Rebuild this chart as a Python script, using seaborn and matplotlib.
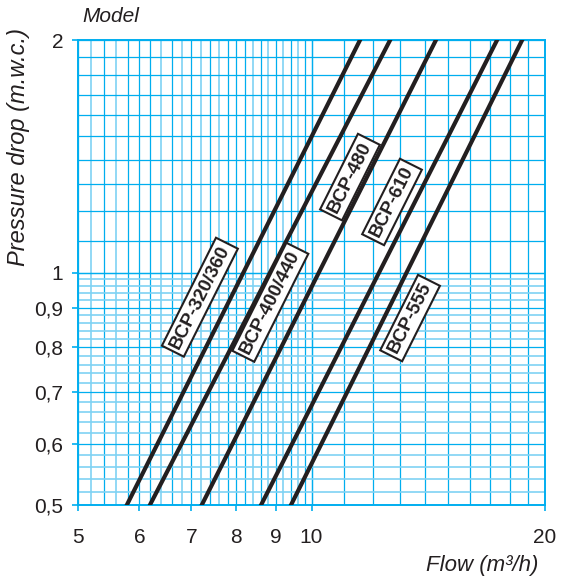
import numpy as np
import pandas as pd
import matplotlib
matplotlib.use("Agg")
import matplotlib.pyplot as plt
from matplotlib.ticker import NullLocator, FixedLocator, FixedFormatter
import seaborn as sns

# flow (m3/h) of each curve at the bottom (0,5) and top (2) of the chart
models = ["BCP-320/360", "BCP-400/440", "BCP-480", "BCP-555", "BCP-610"]
dp_ends = [0.5, 2.0]
flow_low = [5.78, 6.19, 7.22, 8.61, 9.41]
flow_high = [11.55, 12.63, 14.47, 17.35, 18.69]

# label boxes (flow, pressure drop)
label_text = ["BCP-320/360", "BCP-400/440", "BCP-480", "BCP-610", "BCP-555"]
label_flow = [7.18, 8.85, 11.21, 12.70, 13.40]
label_dp = [0.929, 0.915, 1.329, 1.234, 0.873]

x_ticks = [5, 6, 7, 8, 9, 10, 20]
x_tick_labels = ["5", "6", "7", "8", "9", "10", "20"]
y_ticks = [0.5, 0.6, 0.7, 0.8, 0.9, 1, 2]
y_tick_labels = ["0,5", "0,6", "0,7", "0,8", "0,9", "1", "2"]

rows = []
for m, lo, hi in zip(models, flow_low, flow_high):
    rows.append({"model": m, "flow": lo, "dp": dp_ends[0]})
    rows.append({"model": m, "flow": hi, "dp": dp_ends[1]})
df = pd.DataFrame(rows)

sns.set_theme(style="white")
plt.rcParams["font.family"] = ["Liberation Sans", "DejaVu Sans"]

CYAN = "#00aeef"
LIGHT = "#7fd2f3"
TEXT = "#231f20"

fig = plt.figure(figsize=(5.62, 5.77), dpi=100)
ax = fig.add_axes([78 / 562, 1 - 505 / 577, 467 / 562, 465 / 577])
ax.set_xscale("log")
ax.set_yscale("log")
ax.set_xlim(5, 20)
ax.set_ylim(0.5, 2)

# paper grid
xs_fine = np.round(np.arange(5.0, 10.0001, 0.2), 2)
xs_coarse = np.arange(10, 21, 1)
ys_fine = np.round(np.arange(0.5, 1.0001, 0.02), 2)
ys_coarse = np.round(np.arange(1.0, 2.0001, 0.1), 2)
for i, v in enumerate(xs_fine):
    dark = i % 2 == 0 or abs(v - round(v)) < 1e-6
    ax.axvline(v, color=CYAN if dark else LIGHT, lw=0.9 if dark else 1.2, zorder=0)
for v in xs_coarse:
    ax.axvline(v, color=CYAN, lw=0.9, zorder=0)
for i, v in enumerate(ys_fine):
    dark = i % 5 == 0
    ax.axhline(v, color=CYAN if dark else LIGHT, lw=0.9 if dark else 1.2, zorder=0)
for v in ys_coarse:
    ax.axhline(v, color=CYAN, lw=0.9, zorder=0)

sns.lineplot(data=df, x="flow", y="dp", units="model", estimator=None,
             color="#231f20", lw=3, solid_capstyle="projecting",
             legend=False, ax=ax, zorder=3)

angle = 63.4
for t, fx, fy in zip(label_text, label_flow, label_dp):
    ax.text(fx, fy, t, rotation=angle, rotation_mode="anchor",
            ha="center", va="center", fontsize=13.5, fontweight="bold",
            color=TEXT, zorder=5,
            bbox=dict(boxstyle="square,pad=0.2", fc="white", ec=TEXT, lw=1.5))

ax.xaxis.set_major_locator(FixedLocator(x_ticks))
ax.xaxis.set_major_formatter(FixedFormatter(x_tick_labels))
ax.yaxis.set_major_locator(FixedLocator(y_ticks))
ax.yaxis.set_major_formatter(FixedFormatter(y_tick_labels))
ax.xaxis.set_minor_locator(NullLocator())
ax.yaxis.set_minor_locator(NullLocator())
ax.tick_params(axis="x", direction="out", length=4.5, width=1.2, color=CYAN,
               pad=12, labelsize=15, labelcolor=TEXT, bottom=True)
ax.tick_params(axis="y", direction="out", length=4.5, width=1.2, color=CYAN,
               pad=6, labelsize=15, labelcolor=TEXT, left=True)
ax.set_xlabel("")
ax.set_ylabel("")
for s in ax.spines.values():
    s.set_color(CYAN)
    s.set_linewidth(1.4)

fig.text(82 / 562, 1 - 16 / 577, "Model", ha="left", va="center",
         fontsize=15, fontstyle="italic", color=TEXT)
fig.text(19 / 562, 1 - 147 / 577, "Pressure drop (m.w.c.)", rotation=90,
         ha="center", va="center", fontsize=17, fontstyle="italic", color=TEXT)
fig.text(538 / 562, 1 - 565 / 577, "Flow (m³/h)", ha="right", va="center",
         fontsize=16, fontstyle="italic", color=TEXT)

fig.savefig("out.png", dpi=100, facecolor="white")
